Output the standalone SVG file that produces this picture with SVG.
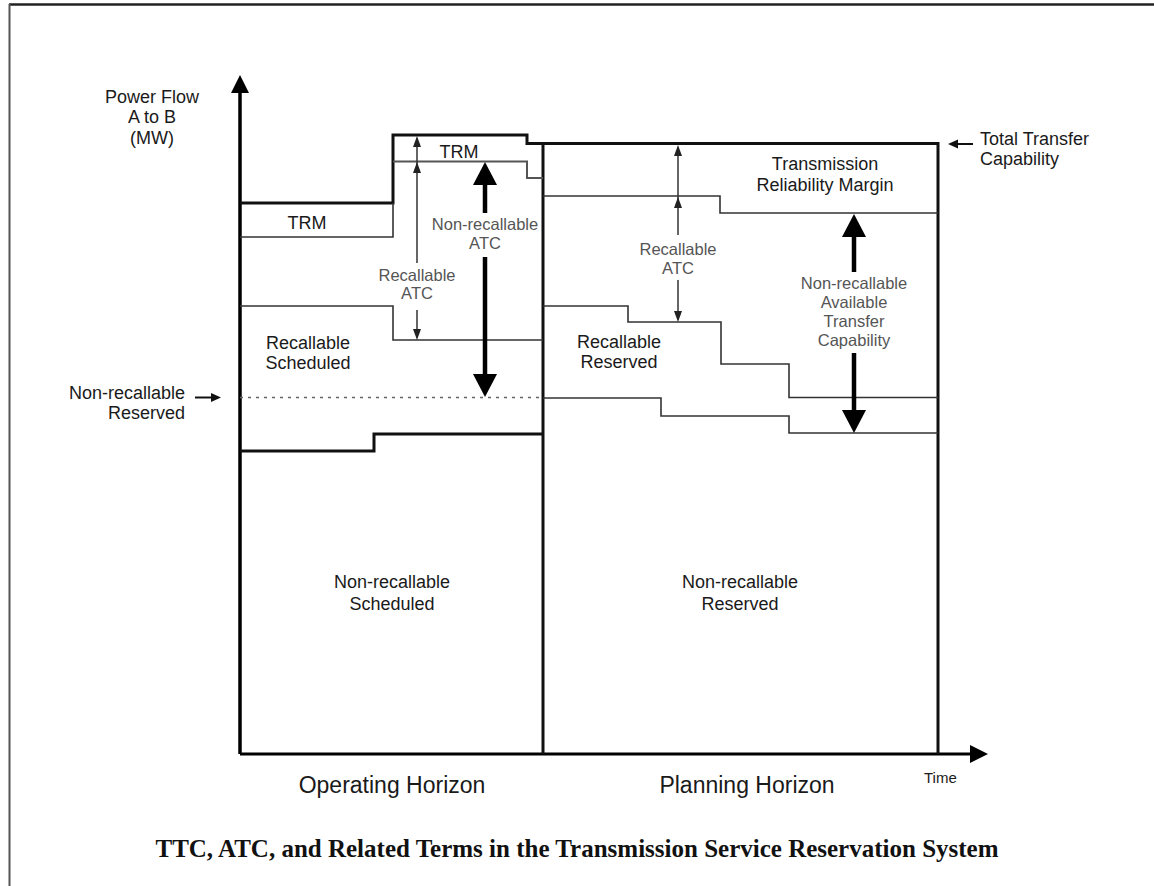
<svg xmlns="http://www.w3.org/2000/svg" xmlns:xlink="http://www.w3.org/1999/xlink" width="1154" height="886" viewBox="0 0 1154 886">
<style>
.thick{fill:none;stroke:#111;stroke-width:3}
.thin{fill:none;stroke:#333;stroke-width:1.6}
.grey{fill:none;stroke:#555;stroke-width:2}
.lbl{font-family:"Liberation Sans",Arial,sans-serif;font-size:18px;fill:#1a1a1a}
.sm{font-family:"Liberation Sans",Arial,sans-serif;font-size:16.5px;fill:#555}
.ax{font-family:"Liberation Sans",Arial,sans-serif;font-size:23px;fill:#1a1a1a}
.cap{font-family:"Liberation Serif","Times New Roman",serif;font-size:25px;font-weight:bold;fill:#111}
</style>
<defs>
<path id="hs" d="M0,0 L-4,11 L4,11 Z" fill="#222"/>
<path id="hb" d="M0,0 L-12,23 L12,23 Z" fill="#000"/>
<path id="ha" d="M0,0 L-9,18 L9,18 Z" fill="#000"/>
</defs>
<rect width="1154" height="886" fill="#fff"/>
<g id="border">
<line x1="9" y1="4.5" x2="1154" y2="4.5" stroke="#222" stroke-width="2.5"/>
<line x1="9.5" y1="4" x2="9.5" y2="886" stroke="#555" stroke-width="2"/>
</g>
<g id="axes">
<line x1="240" y1="90" x2="240" y2="754" stroke="#000" stroke-width="3.5"/>
<use xlink:href="#ha" x="240" y="75"/>
<line x1="240" y1="754" x2="972" y2="754" stroke="#000" stroke-width="3"/>
<use xlink:href="#ha" transform="translate(988,754) rotate(90)"/>
</g>
<g id="operating-horizon">
<path class="thick" d="M240,203 H393 V135 H527 V143.5 H938 V754"/>
<line x1="543" y1="143" x2="543" y2="754" stroke="#111" stroke-width="3"/>
<path class="thin" d="M240,237 H393 V203"/>
<path class="grey" d="M393,161.5 H527 V178 H543"/>
<path class="thin" d="M240,306 H393 V340 H543"/>
<line x1="240" y1="397.5" x2="543" y2="397.5" stroke="#666" stroke-width="1.6" stroke-dasharray="3,5"/>
<path class="thick" d="M240,451 H374 V434 H543"/>
</g>
<g id="planning-horizon">
<path class="thin" d="M543,196 H720 V213 H938"/>
<path class="thin" d="M543,306 H628 V322 H721 V364 H789 V397.5 H938"/>
<path class="thin" d="M543,398 H661 V416 H789 V433 H938"/>
</g>
<g id="connectors">
<line x1="417" y1="140" x2="417" y2="263" stroke="#333" stroke-width="1.5"/>
<use xlink:href="#hs" x="417" y="136"/>
<use xlink:href="#hs" x="417" y="162"/>
<line x1="417" y1="310" x2="417" y2="332" stroke="#333" stroke-width="1.5"/>
<use xlink:href="#hs" transform="translate(417,340) rotate(180)"/>
<line x1="678" y1="148" x2="678" y2="235" stroke="#333" stroke-width="1.5"/>
<use xlink:href="#hs" x="678" y="145"/>
<use xlink:href="#hs" x="678" y="197"/>
<line x1="678" y1="280" x2="678" y2="314" stroke="#333" stroke-width="1.5"/>
<use xlink:href="#hs" transform="translate(678,322) rotate(180)"/>
<line x1="485" y1="182" x2="485" y2="213" stroke="#000" stroke-width="4.5"/>
<use xlink:href="#hb" x="485" y="162"/>
<line x1="485" y1="257" x2="485" y2="378" stroke="#000" stroke-width="4.5"/>
<use xlink:href="#hb" transform="translate(485,397) rotate(180)"/>
<line x1="854" y1="234" x2="854" y2="272" stroke="#000" stroke-width="4.5"/>
<use xlink:href="#hb" x="854" y="214"/>
<line x1="854" y1="353" x2="854" y2="413" stroke="#000" stroke-width="4.5"/>
<use xlink:href="#hb" transform="translate(854,433) rotate(180)"/>
<line x1="973" y1="144" x2="955" y2="144" stroke="#111" stroke-width="2"/>
<path d="M948,144 L958,139.5 L958,148.5 Z" fill="#111"/>
<line x1="195" y1="397.5" x2="213" y2="397.5" stroke="#111" stroke-width="2"/>
<path d="M221,397.5 L211,393 L211,402 Z" fill="#111"/>
</g>
<g id="y-axis-label">
<text class="lbl" x="152" y="103" text-anchor="middle">Power Flow</text>
<text class="lbl" x="152" y="123" text-anchor="middle">A to B</text>
<text class="lbl" x="152" y="144" text-anchor="middle">(MW)</text>
</g>
<g id="trm-left"><text class="lbl" x="307" y="229" text-anchor="middle">TRM</text></g>
<g id="trm-mid"><text class="lbl" x="459" y="158" text-anchor="middle">TRM</text></g>
<g id="recallable-scheduled">
<text class="lbl" x="308" y="349" text-anchor="middle">Recallable</text>
<text class="lbl" x="308" y="369" text-anchor="middle">Scheduled</text>
</g>
<g id="nr-reserved-pointer">
<text class="lbl" x="185" y="399" text-anchor="end">Non-recallable</text>
<text class="lbl" x="185" y="419" text-anchor="end">Reserved</text>
</g>
<g id="recallable-atc-left">
<text class="sm" x="417" y="281" text-anchor="middle">Recallable</text>
<text class="sm" x="417" y="299" text-anchor="middle">ATC</text>
</g>
<g id="nr-atc">
<text class="sm" x="485" y="230" text-anchor="middle">Non-recallable</text>
<text class="sm" x="485" y="249" text-anchor="middle">ATC</text>
</g>
<g id="trm-right">
<text class="lbl" x="825" y="170" text-anchor="middle">Transmission</text>
<text class="lbl" x="825" y="191" text-anchor="middle">Reliability Margin</text>
</g>
<g id="recallable-atc-right">
<text class="sm" x="678" y="255" text-anchor="middle">Recallable</text>
<text class="sm" x="678" y="274" text-anchor="middle">ATC</text>
</g>
<g id="nr-available-tc">
<text class="sm" x="854" y="289" text-anchor="middle">Non-recallable</text>
<text class="sm" x="854" y="308" text-anchor="middle">Available</text>
<text class="sm" x="854" y="327" text-anchor="middle">Transfer</text>
<text class="sm" x="854" y="346" text-anchor="middle">Capability</text>
</g>
<g id="recallable-reserved">
<text class="lbl" x="619" y="348" text-anchor="middle">Recallable</text>
<text class="lbl" x="619" y="368" text-anchor="middle">Reserved</text>
</g>
<g id="ttc-label">
<text class="lbl" x="980" y="145">Total Transfer</text>
<text class="lbl" x="980" y="165">Capability</text>
</g>
<g id="nr-scheduled">
<text class="lbl" x="392" y="588" text-anchor="middle">Non-recallable</text>
<text class="lbl" x="392" y="610" text-anchor="middle">Scheduled</text>
</g>
<g id="nr-reserved">
<text class="lbl" x="740" y="588" text-anchor="middle">Non-recallable</text>
<text class="lbl" x="740" y="610" text-anchor="middle">Reserved</text>
</g>
<g id="x-axis-labels">
<text class="ax" x="392" y="793" text-anchor="middle">Operating Horizon</text>
<text class="ax" x="747" y="793" text-anchor="middle">Planning Horizon</text>
<text class="lbl" style="font-size:15px" x="924" y="783">Time</text>
</g>
<g id="caption">
<text class="cap" x="577" y="857" text-anchor="middle">TTC, ATC, and Related Terms in the Transmission Service Reservation System</text>
</g>
</svg>
